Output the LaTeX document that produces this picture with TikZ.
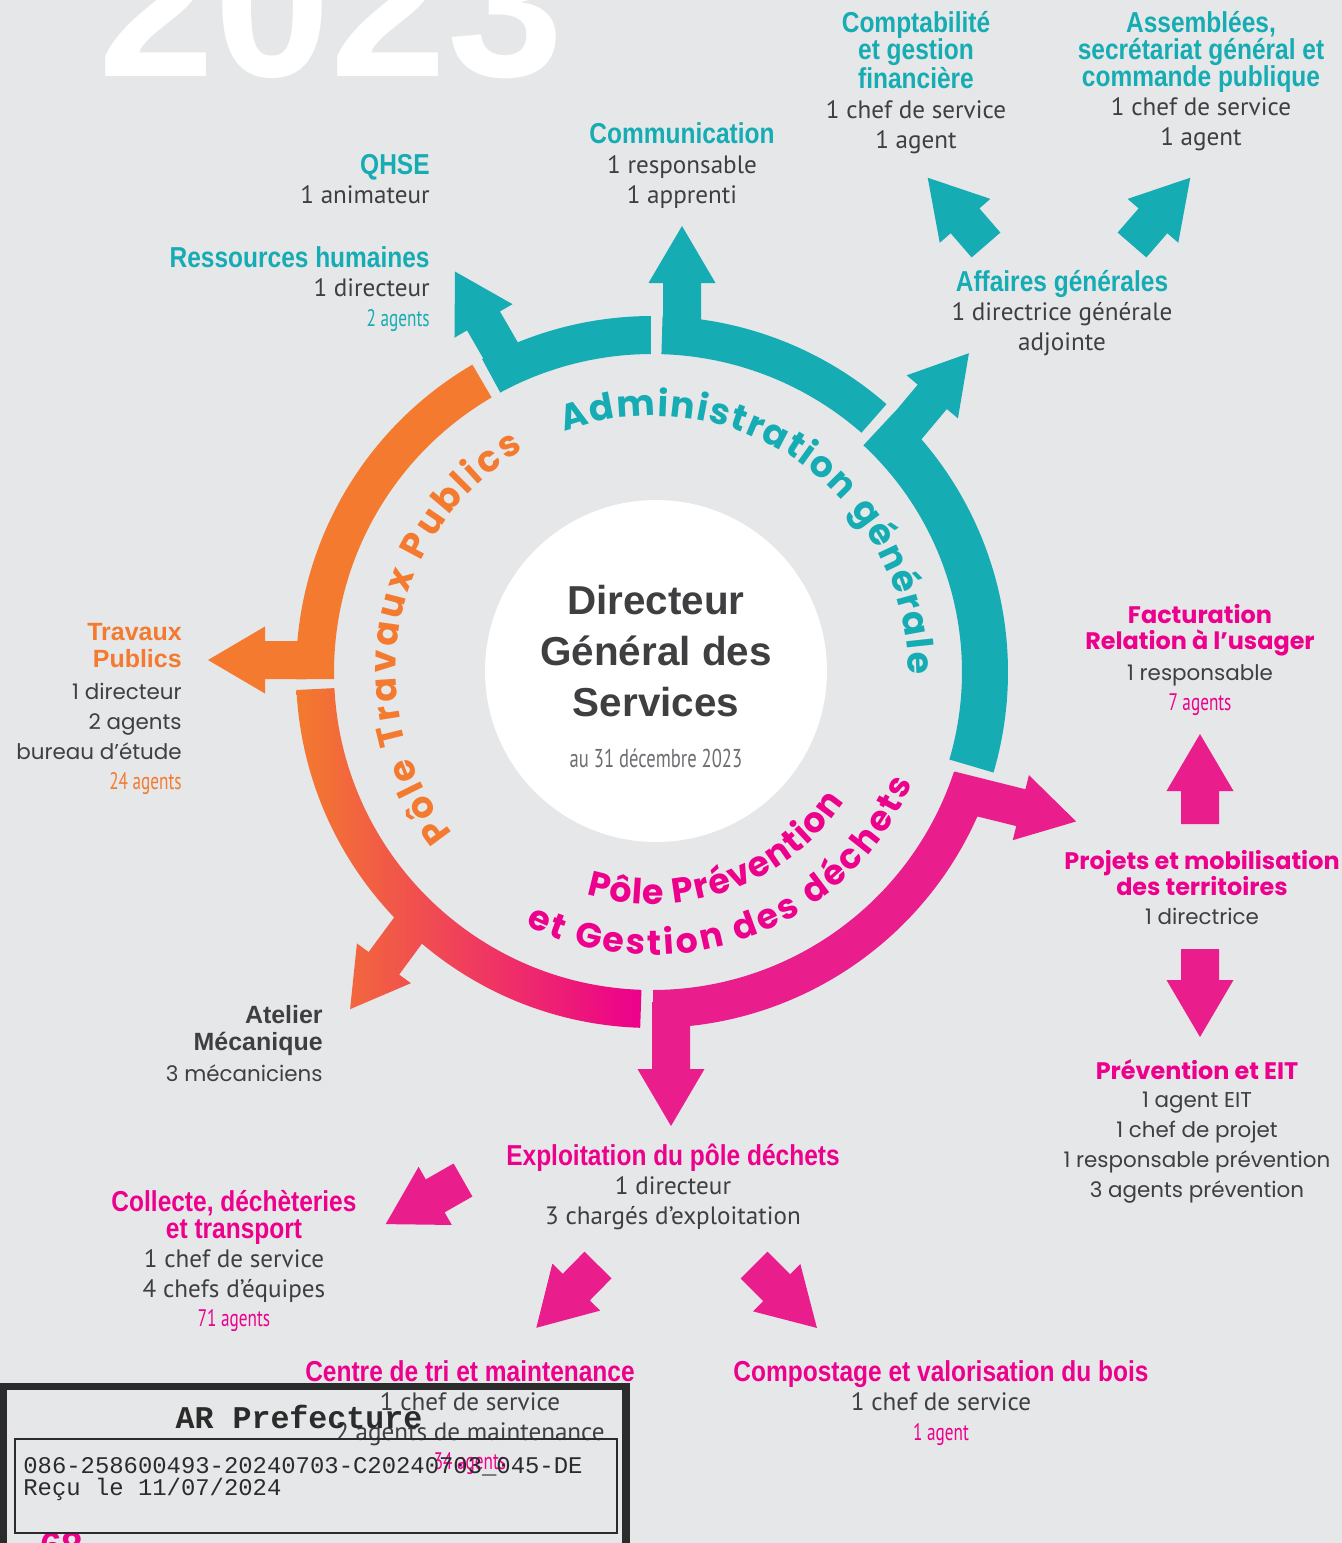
\documentclass[tikz,border=0pt]{standalone}
\usepackage{fontspec}
\setmainfont{PT Sans}
\newfontfamily\condfont[FakeStretch=0.85]{Liberation Sans}
\newfontfamily\narrowfont[FakeStretch=0.72]{PT Sans}
\newfontfamily\widefont{Poppins}
\newfontfamily\plainfont{Liberation Sans}
\newfontfamily\stampfont{Liberation Mono}
\usetikzlibrary{decorations.text}
\definecolor{Teal}{HTML}{15ACB3}
\definecolor{Orange}{HTML}{F37A2E}
\definecolor{Pink}{HTML}{E91E8C}
\definecolor{Magenta}{HTML}{EC008C}
\definecolor{Ink}{HTML}{3F3F41}
\definecolor{Slate}{HTML}{6D6E71}
\definecolor{Paper}{HTML}{E6E7E9}
\definecolor{Stamp}{HTML}{2B2B2B}

% ring sector: start angle, end angle, inner radius, outer radius (around C)
\newcommand{\ringpath}[4]{([shift={(C)}]#1:#4) arc[start angle=#1, end angle=#2, radius=#4]
  -- ([shift={(C)}]#2:#3) arc[start angle=#2, end angle=#1, radius=#3] -- cycle}
% block arrow: base point, direction, length
\newcommand{\arrowpath}[3]{([shift={#1},rotate=#2]0,-19) -- ([shift={#1},rotate=#2]#3-57,-19)
  -- ([shift={#1},rotate=#2]#3-57,-33.5) -- ([shift={#1},rotate=#2]#3,0)
  -- ([shift={#1},rotate=#2]#3-57,33.5) -- ([shift={#1},rotate=#2]#3-57,19)
  -- ([shift={#1},rotate=#2]0,19) -- cycle}
\newcommand{\agentcount}[2]{{\narrowfont\fontsize{13.6pt}{17pt}\selectfont\color{#1}#2}}

\tikzset{
  head/.style={font=\condfont\bfseries\fontsize{16.4pt}{15.5pt}\selectfont, inner sep=0pt, align=center},
  widehead/.style={font=\widefont\bfseries\fontsize{13.6pt}{14.9pt}\selectfont, inner sep=0pt, align=center, text=Magenta},
  plainhead/.style={font=\plainfont\bfseries\fontsize{14.2pt}{15.3pt}\selectfont, inner sep=0pt, align=right},
  info/.style={font=\fontsize{14.3pt}{17pt}\selectfont, text=Ink, inner sep=0pt, align=center},
  wideinfo/.style={font=\widefont\fontsize{12.2pt}{17pt}\selectfont, text=Ink, inner sep=0pt, align=center},
  admin/.style={fill=Teal},
  dechets/.style={fill=Pink},
  travaux/.style={fill=Orange}
}

\begin{document}
\begin{tikzpicture}[x=0.02cm, y=0.02cm]
  \useasboundingbox (0,0) rectangle (1342,-1543);
  \clip (0,0) rectangle (1342,-1543);
  \fill[Paper] (0,0) rectangle (1342,-1543);
  \node[font=\plainfont\bfseries\fontsize{119pt}{119pt}\selectfont, text=white, anchor=base west, inner sep=0pt] (year) at (98,-76) {2023};

  \coordinate (C) at (652,-672);
  \node[circle, fill=white, minimum size=6.84cm, inner sep=0pt] (disk) at (656,-671) {};

  % branch points on the ring
  \coordinate (rhBase) at (513,-372);
  \coordinate (comBase) at (682,-345);
  \coordinate (affBase) at (886,-452);
  \coordinate (projBase) at (950,-790);
  \coordinate (tpBase) at (334,-660);
  \coordinate (explBase) at (671,-1002);
  \coordinate (atelBase) at (419.5,-915);

  % ring segments with their arrows
  \fill[admin] \ringpath{90.2}{118.5}{318}{356} \arrowpath{(rhBase)}{120}{116};
  \fill[admin] \ringpath{48.8}{88.3}{318}{356} \arrowpath{(comBase)}{90}{119};
  \fill[admin] \ringpath{-16.4}{47}{310}{356} \arrowpath{(affBase)}{50}{129};
  \fill[travaux] \ringpath{120.3}{181.2}{318}{356} \arrowpath{(tpBase)}{180}{126};
  \shade[left color=Orange, right color=Magenta] \ringpath{182.9}{268.1}{318}{356} \arrowpath{(atelBase)}{233.6}{117};
  \fill[dechets] \ringpath{-89.8}{-18.3}{318}{356} \arrowpath{(projBase)}{-14}{130} \arrowpath{(explBase)}{-90}{124};

  % free arrows
  \coordinate (comptaBase) at (986,-245);
  \coordinate (assemBase) at (1132,-245);
  \coordinate (factBase) at (1200,-824);
  \coordinate (prevBase) at (1200,-949);
  \coordinate (collBase) at (463,-1180);
  \coordinate (triBase) at (598,-1265);
  \coordinate (compBase) at (754,-1265);
  \fill[admin] \arrowpath{(comptaBase)}{130.9}{89};
  \fill[admin] \arrowpath{(assemBase)}{49.1}{89};
  \fill[dechets] \arrowpath{(factBase)}{90}{90};
  \fill[dechets] \arrowpath{(prevBase)}{-90}{88};
  \fill[dechets] \arrowpath{(collBase)}{209.7}{89};
  \fill[dechets] \arrowpath{(triBase)}{225.5}{88};
  \fill[dechets] \arrowpath{(compBase)}{-45}{89};

  % curved titles
  \path[decorate, decoration={text along path, text align={fit to path},
    text={|\widefont\bfseries\fontsize{20.6pt}{21pt}\selectfont\color{Teal}|Administration générale}}]
    ([shift={(C)}]110:256) arc[start angle=110, end angle=-0.5, radius=256];
  \path[decorate, decoration={text along path, text align={fit to path},
    text={|\widefont\bfseries\fontsize{20.6pt}{21pt}\selectfont\color{Orange}|Pôle Travaux Publics}}]
    ([shift={(C)}]219:256) arc[start angle=219, end angle=120, radius=256];
  \path[decorate, decoration={text along path, text align={fit to path},
    text={|\widefont\bfseries\fontsize{19.8pt}{20pt}\selectfont\color{Magenta}|Pôle Prévention}}]
    ([shift={(C)}]253.5:232) arc[start angle=253.5, end angle=326, radius=232];
  \path[decorate, decoration={text along path, text align={fit to path},
    text={|\widefont\bfseries\fontsize{19.8pt}{20pt}\selectfont\color{Magenta}|et Gestion des déchets}}]
    ([shift={(C)}]243.5:283) arc[start angle=243.5, end angle=337, radius=283];

  % centre
  \node[font=\plainfont\bfseries\fontsize{23pt}{28.9pt}\selectfont, text=Ink, align=center] (dgs) at (656,-651) {Directeur\\Général des\\Services};
  \node[font=\narrowfont\fontsize{14.7pt}{15pt}\selectfont, text=Slate] (dgsDate) at (656,-758) {au 31 décembre 2023};

  % administration générale
  \node[head, text=Teal, anchor=north east, align=right] (qhse) at (430,-154) {QHSE};
  \node[info, anchor=north east, align=right] (qhseInfo) at (430,-185) {1 animateur};
  \node[head, text=Teal, anchor=north east, align=right] (rh) at (430,-246) {Ressources humaines};
  \node[info, anchor=north east, align=right] (rhInfo) at (430,-278) {1 directeur\\\agentcount{Teal}{2 agents}};
  \node[head, text=Teal, anchor=north] (com) at (682,-122) {Communication};
  \node[info, anchor=north] (comInfo) at (682,-155) {1 responsable\\1 apprenti};
  \node[head, text=Teal, anchor=north] (compta) at (916,-11) {Comptabilité\\et gestion\\financière};
  \node[info, anchor=north] (comptaInfo) at (916,-100) {1 chef de service\\1 agent};
  \node[head, text=Teal, anchor=north] (assem) at (1201,-11) {Assemblées,\\secrétariat général et\\commande publique};
  \node[info, anchor=north] (assemInfo) at (1201,-97) {1 chef de service\\1 agent};
  \node[head, text=Teal, anchor=north] (aff) at (1062,-270) {Affaires générales};
  \node[info, anchor=north] (affInfo) at (1062,-302) {1 directrice générale\\adjointe};

  % prévention et gestion des déchets
  \node[widehead, anchor=north] (fact) at (1200,-604) {Facturation\\Relation à l’usager};
  \node[wideinfo, anchor=north] (factInfo) at (1200,-664) {1 responsable\\\agentcount{Magenta}{7 agents}};
  \node[widehead, anchor=north] (proj) at (1202,-850) {Projets et mobilisation\\des territoires};
  \node[wideinfo, anchor=north] (projInfo) at (1202,-908) {1 directrice};
  \node[widehead, anchor=north] (prev) at (1197,-1059) {Prévention et EIT};
  \node[wideinfo, anchor=north] (prevInfo) at (1197,-1092) {1 agent EIT\\1 chef de projet\\1 responsable prévention\\3 agents prévention};
  \node[head, text=Magenta, anchor=north] (expl) at (673,-1144) {Exploitation du pôle déchets};
  \node[info, anchor=north] (explInfo) at (673,-1176) {1 directeur\\3 chargés d’exploitation};
  \node[head, text=Magenta, anchor=north] (coll) at (234,-1190) {Collecte, déchèteries\\et transport};
  \node[info, anchor=north] (collInfo) at (234,-1249) {1 chef de service\\4 chefs d’équipes\\\agentcount{Magenta}{71 agents}};
  \node[head, text=Magenta, anchor=north] (tri) at (470,-1360) {Centre de tri et maintenance};
  \node[info, anchor=north] (triInfo) at (470,-1392) {1 chef de service\\2 agents de maintenance\\\agentcount{Magenta}{34 agents}};
  \node[head, text=Magenta, anchor=north] (comp) at (941,-1360) {Compostage et valorisation du bois};
  \node[info, anchor=north] (compInfo) at (941,-1392) {1 chef de service\\\agentcount{Magenta}{1 agent}};

  % travaux publics
  \node[plainhead, text=Orange, anchor=north east] (tp) at (182,-623) {Travaux\\Publics};
  \node[wideinfo, anchor=north east, align=right] (tpInfo) at (182,-683) {1 directeur\\2 agents\\bureau d’étude\\\agentcount{Orange}{24 agents}};
  \node[plainhead, text=Ink, anchor=north east] (atel) at (323,-1005) {Atelier\\Mécanique};
  \node[wideinfo, anchor=north east, align=right] (atelInfo) at (323,-1064) {3 mécaniciens};

  % page number and stamp
  \node[font=\plainfont\bfseries\fontsize{22pt}{22pt}\selectfont, text=Magenta, anchor=north, inner sep=0pt] (pageNo) at (62,-1532) {68};
  \draw[Stamp, line width=4pt] (3.5,-1386.5) rectangle (626,-1560);
  \draw[Stamp, line width=1.4pt] (15,-1439) rectangle (617,-1533);
  \node[font=\stampfont\bfseries\fontsize{18pt}{18pt}\selectfont, text=Stamp] (arTitle) at (299,-1417) {AR Prefecture};
  \node[font=\stampfont\fontsize{13.6pt}{12.5pt}\selectfont, text=Stamp, align=left, anchor=north west, inner sep=0pt] (arCode) at (23,-1457) {086-258600493-20240703-C20240703\_045-DE\\Reçu le 11/07/2024};
\end{tikzpicture}
\end{document}
